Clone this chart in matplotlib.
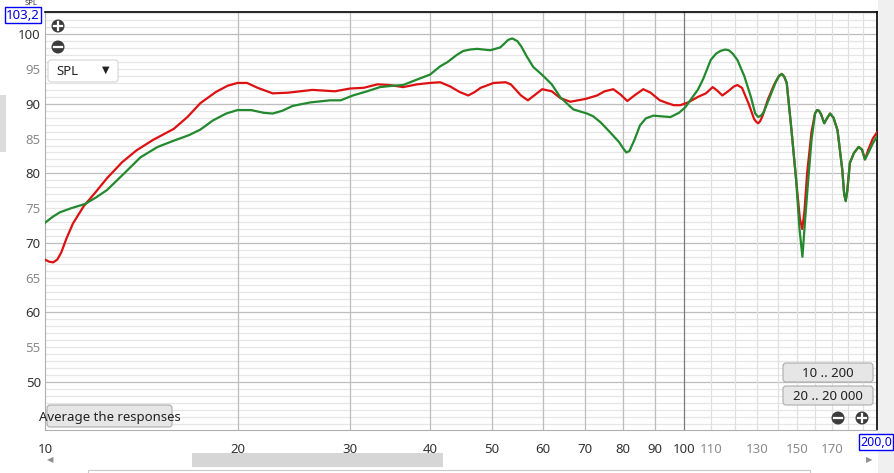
"""REW-style SPL overlay of two measured responses, 10..200 Hz."""

import matplotlib

matplotlib.use("Agg")
import matplotlib.pyplot as plt
from matplotlib.patches import Circle, FancyBboxPatch, Rectangle

# values (Hz, dB SPL)
red_freq = [
    10.0, 10.15, 10.3, 10.45, 10.6, 10.8, 11.06, 11.5, 12.0, 12.5, 13.2, 13.9,
    14.75, 15.9, 16.7, 17.5, 18.5, 19.3, 20.0, 20.7, 21.5, 22.7, 24.0, 26.2,
    28.4, 30.0, 31.5, 33.1, 34.6, 36.3, 38.2, 40.0, 41.5, 43.0, 44.5, 45.9,
    47.0, 48.0, 50.3, 52.5, 53.5, 54.5, 55.5, 56.9, 58.2, 59.9, 62.0, 64.0,
    66.3, 70.0, 73.0, 75.0, 77.4, 79.5, 81.4, 83.5, 86.2, 88.5, 91.5, 94.0,
    96.2, 98.5, 101.3, 105.0, 108.0, 110.7, 112.5, 114.6, 117.0, 119.5,
    121.0, 123.0, 126.0, 128.5, 129.5, 130.4, 131.3, 132.5, 135.0, 138.0,
    140.5, 142.0, 143.2, 144.5, 147.0, 149.5, 151.5, 152.8, 154.0, 155.5,
    158.0, 160.0, 161.2, 162.3, 163.5, 165.4, 167.0, 168.9, 171.0, 173.5,
    176.5, 177.7, 178.7, 179.7, 181.4, 184.0, 187.2, 189.5, 191.5, 194.0,
    197.0, 200.0,
]
red_spl = [
    67.6, 67.3, 67.2, 67.6, 68.6, 70.6, 72.8, 75.3, 77.3, 79.3, 81.6, 83.3,
    84.8, 86.4, 88.1, 90.1, 91.7, 92.6, 93.0, 93.0, 92.3, 91.5, 91.6, 92.0,
    91.8, 92.2, 92.3, 92.8, 92.7, 92.4, 92.8, 93.0, 93.1, 92.5, 91.7, 91.2,
    91.7, 92.3, 93.0, 93.1, 92.8, 92.0, 91.2, 90.5, 91.2, 92.1, 91.8, 90.8,
    90.3, 90.7, 91.2, 91.8, 92.1, 91.3, 90.4, 91.2, 92.1, 91.6, 90.5, 90.1,
    89.8, 89.8, 90.2, 91.0, 91.5, 92.4, 91.9, 91.2, 91.8, 92.5,
    92.7, 92.3, 90.0, 87.8, 87.4, 87.2, 87.5, 88.3, 90.6, 92.7,
    94.0, 94.3, 93.9, 93.0, 86.2, 79.0, 73.5, 72.0, 74.5, 80.0,
    86.0, 88.6, 89.1, 89.0, 88.5, 87.2, 87.9, 88.6, 88.0, 86.2,
    80.5, 77.0, 76.1, 77.5, 81.5, 82.9, 83.8, 83.4, 82.0, 83.5,
    85.0, 85.9,
]

green_freq = [
    10.0, 10.3, 10.55, 11.0, 11.55, 12.0, 12.5, 13.3, 14.1, 15.0, 15.9, 16.8,
    17.5, 18.3, 19.2, 20.0, 21.0, 22.0, 22.7, 23.5, 24.4, 26.0, 27.9, 29.0,
    30.3, 31.9, 33.4, 35.0, 36.3, 38.2, 40.0, 41.5, 42.6, 44.0, 45.1, 46.2,
    47.4, 49.7, 51.5, 52.2, 53.0, 53.8, 54.8, 55.6, 56.6, 58.0, 60.0, 62.0,
    64.0, 67.0, 70.4, 72.0, 74.0, 76.5, 79.0, 80.2, 81.1, 82.0, 83.5, 85.2,
    87.0, 89.4, 92.0, 95.1, 98.0, 100.3, 103.0, 104.9, 107.0, 109.9, 112.0,
    113.8, 115.8, 117.3, 119.0, 121.0, 124.0, 127.0, 129.0, 130.4, 131.7,
    133.0, 136.0, 139.0, 140.5, 142.0, 143.2, 144.5, 147.0, 149.5, 151.3,
    152.9, 154.3, 155.8, 158.0, 160.0, 161.2, 162.3, 163.5, 165.4, 167.0,
    168.9, 171.0, 173.5, 176.5, 177.7, 178.7, 179.7, 181.4, 184.0, 187.2,
    189.5, 191.5, 194.0, 197.0, 200.0,
]
green_spl = [
    72.9, 73.8, 74.4, 75.0, 75.6, 76.5, 77.6, 80.0, 82.3, 83.8, 84.7, 85.5,
    86.3, 87.6, 88.6, 89.1, 89.1, 88.7, 88.6, 89.0, 89.7, 90.2, 90.5, 90.5,
    91.2, 91.8, 92.4, 92.6, 92.7, 93.5, 94.2, 95.4, 96.0, 97.0, 97.6, 97.8,
    97.9, 97.7, 98.1, 98.6, 99.2, 99.4, 99.0, 98.2, 96.9, 95.3, 94.1, 92.8,
    90.9, 89.2, 88.6, 88.2, 87.3, 85.9, 84.5, 83.6, 83.0, 83.2, 84.8, 86.9,
    87.9, 88.3, 88.2, 88.1, 88.7, 89.5, 91.0, 92.0, 93.6, 96.3, 97.2,
    97.6, 97.8, 97.7, 97.2, 96.3, 94.0, 91.0, 88.6, 88.1, 88.3,
    88.8, 91.0, 93.2, 94.0, 94.3, 93.9, 93.0, 86.2, 79.0, 72.0,
    68.0, 73.0, 78.0, 84.8, 88.6, 89.1, 89.0, 88.5, 87.2, 87.9,
    88.6, 88.0, 86.2, 80.5, 77.0, 76.0, 77.5, 81.5, 82.9, 83.8,
    83.4, 82.0, 83.0, 84.3, 85.3,
]

y_ticks = [50, 55, 60, 65, 70, 75, 80, 85, 90, 95, 100]
x_ticks = [10, 20, 30, 40, 50, 60, 70, 80, 90, 100, 110, 130, 150, 170]

W, H = 895, 473
DARK = "#333333"
GREY = "#8a8a8a"

fig = plt.figure(figsize=(W / 100, H / 100), dpi=100, facecolor="white")
plt.rcParams["font.family"] = ["Noto Sans", "DejaVu Sans"]


def inch(x, y):
    # screenshot pixel (top-left origin) -> inches for dpi_scale_trans
    return x / 100, (H - y) / 100


def add_rect(x0, y0, x1, y1, **kw):
    fig.add_artist(
        Rectangle(inch(x0, y1), (x1 - x0) / 100, (y1 - y0) / 100,
                  transform=fig.dpi_scale_trans, **kw)
    )


def add_button(x0, y0, x1, y1, label, fc="#e6e6e6", ec="#acacac", size=9.5):
    fig.add_artist(
        FancyBboxPatch(inch(x0, y1), (x1 - x0) / 100, (y1 - y0) / 100,
                       boxstyle="round,pad=0,rounding_size=0.03",
                       transform=fig.dpi_scale_trans, fc=fc, ec=ec, lw=0.8)
    )
    if label:
        fig.text(*inch((x0 + x1) / 2, (y0 + y1) / 2 + 1), label,
                 transform=fig.dpi_scale_trans, ha="center", va="center",
                 fontsize=size, color="#222222")


def add_zoom_icon(x, y, plus):
    fig.add_artist(Circle(inch(x, y), 0.065, transform=fig.dpi_scale_trans,
                          fc="#3c3c3c", ec="none"))
    cx, cy = inch(x, y)
    fig.add_artist(plt.Line2D([cx - 0.04, cx + 0.04], [cy, cy],
                              transform=fig.dpi_scale_trans, color="white",
                              lw=1.6))
    if plus:
        fig.add_artist(plt.Line2D([cx, cx], [cy - 0.04, cy + 0.04],
                                  transform=fig.dpi_scale_trans,
                                  color="white", lw=1.6))


# window chrome around the graph
add_rect(878, 0, W, H, fc="#f0f0f0", ec="none")
add_rect(0, 95, 6, 152, fc="#dcdcdc", ec="none")

left, right, top, bottom = 45, 877, 12, 430
ax = fig.add_axes([left / W, (H - bottom) / H, (right - left) / W,
                   (bottom - top) / H])
ax.set_xscale("log")
ax.set_xlim(10, 200)
ax.set_ylim(43.1, 103.2)

# grid: 1 dB minor, 10 dB major, frequency lines
for db in range(44, 104):
    major = db % 10 == 0
    ax.axhline(db, color="#bdbdbd" if major else "#e6e6e6", lw=0.9, zorder=0)
for f in range(20, 200, 10):
    if f < 100:
        color = "#bdbdbd"
    elif f == 100:
        color = "#7a7a7a"
    else:
        color = "#e0e0e0"
    ax.axvline(f, color=color, lw=0.9, zorder=0)

ax.plot(red_freq, red_spl, color="#dd1111", lw=1.6, zorder=3,
        solid_joinstyle="round")
ax.plot(green_freq, green_spl, color="#22892e", lw=1.6, zorder=4,
        solid_joinstyle="round")

for side in ("left", "bottom"):
    ax.spines[side].set_color("#b0b0b0")
for side in ("top", "right"):
    ax.spines[side].set_color("black")
    ax.spines[side].set_linewidth(1.2)

ax.set_yticks(y_ticks)
ax.set_yticklabels([str(v) for v in y_ticks])
for lab, v in zip(ax.get_yticklabels(), y_ticks):
    lab.set_color(DARK if v % 10 == 0 else GREY)
ax.set_xticks(x_ticks)
ax.set_xticklabels([str(v) for v in x_ticks])
ax.xaxis.set_minor_locator(matplotlib.ticker.NullLocator())
for lab, v in zip(ax.get_xticklabels(), x_ticks):
    lab.set_color(DARK if v <= 100 else GREY)
ax.tick_params(axis="both", length=0, labelsize=9.5)
ax.tick_params(axis="x", pad=9)
ax.tick_params(axis="y", pad=3)

# axis end-value boxes
fig.text(*inch(31, 0), "SPL", transform=fig.dpi_scale_trans, ha="center",
         va="top", fontsize=5.5, color=DARK, zorder=1)
fig.text(*inch(23, 15), "103,2", transform=fig.dpi_scale_trans, ha="center",
         va="center", fontsize=9.5, color="#0000dd", zorder=5,
         bbox=dict(boxstyle="square,pad=0.12", fc="white", ec="#0000ff",
                   lw=1.0))
fig.text(*inch(876, 442), "200,0", transform=fig.dpi_scale_trans,
         ha="center", va="center", fontsize=9, color="#0000dd",
         bbox=dict(boxstyle="square,pad=0.12", fc="white", ec="#0000ff",
                   lw=1.0))

# graph widgets
add_zoom_icon(58, 26, True)
add_zoom_icon(58, 47, False)
add_button(48, 60, 118, 82, "", fc="white", ec="#d4d4d4")
fig.text(*inch(56, 71), "SPL", transform=fig.dpi_scale_trans, ha="left",
         va="center", fontsize=9.5, color="#222222")
fig.text(*inch(106, 70), "\u25bc", transform=fig.dpi_scale_trans,
         ha="center", va="center", fontsize=7, color="#222222")
add_button(47, 405, 172, 427, "Average the responses")
add_button(783, 363, 873, 382, "10 .. 200")
add_button(783, 386, 873, 405, "20 .. 20 000")
add_zoom_icon(838, 418, False)
add_zoom_icon(862, 418, True)

# horizontal scrollbar
add_rect(57, 453, 862, 467, fc="white", ec="none")
add_rect(192, 453, 443, 467, fc="#d6d6d6", ec="none")
fig.text(*inch(50, 460), "\u25c0", transform=fig.dpi_scale_trans,
         ha="center", va="center", fontsize=6, color="#909090")
fig.text(*inch(869, 460), "\u25b6", transform=fig.dpi_scale_trans,
         ha="center", va="center", fontsize=6, color="#909090")
add_rect(88, 470, 810, 474, fc="white", ec="#c8c8c8", lw=0.8)

fig.savefig("out.png", dpi=100, facecolor=fig.get_facecolor())
